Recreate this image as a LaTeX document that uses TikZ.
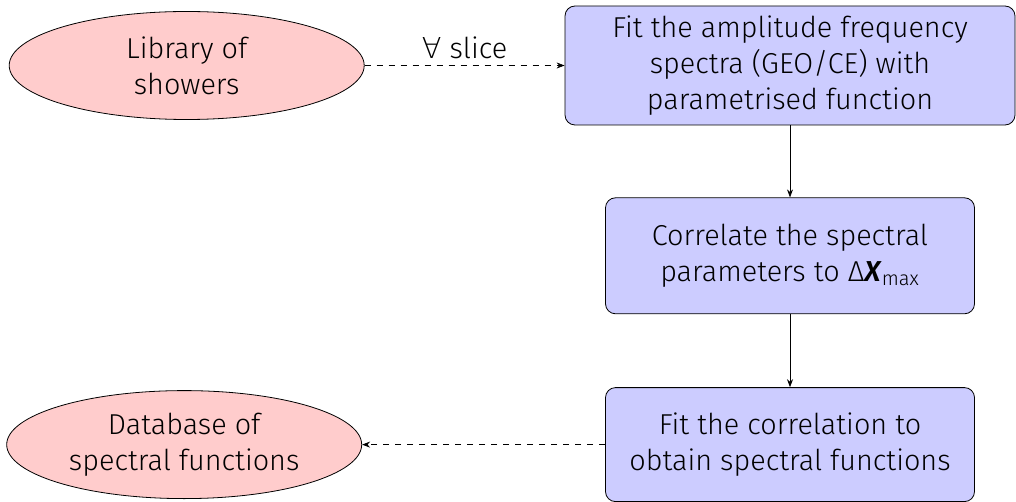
\documentclass[tikz,border=0pt]{standalone}
\usepackage{fontspec}
\setmainfont{Fira Sans Light}[BoldItalicFont={Fira Sans SemiBold Italic}]
\newfontfamily\symbolfont{DejaVu Sans ExtraLight}
\usetikzlibrary{positioning,arrows.meta,shapes.geometric}
\definecolor{procblue}{HTML}{CCCCFF}
\definecolor{datared}{HTML}{FFCCCC}
\tikzset{
    every node/.style={font=\Large},
    process/.style={rectangle,rounded corners=5pt,draw,fill=procblue,align=center,inner sep=2pt},
    dataset/.style={ellipse,draw,fill=datared,align=center,inner sep=1pt,minimum width=177.5pt,minimum height=54pt},
    flow/.style={draw,-{Stealth[length=4pt,width=3pt]}},
    loop/.style={draw,dashed,-{Stealth[length=4pt,width=3pt]}}
}

\begin{document}
\begin{tikzpicture}[x=0.5pt,y=-0.5pt]
\useasboundingbox (0,0) rectangle (1016,502);
\node[process,minimum width=225pt,minimum height=59.5pt] (fitspec) at (790,65.5)
    {Fit the amplitude frequency\\spectra (GEO/CE) with\\parametrised function};
\node[process,minimum width=184.5pt,minimum height=58pt,below=36pt of fitspec] (correl)
    {Correlate the spectral\\parameters to Δ\textbf{\textit{X}}\textsubscript{max}};
\node[process,minimum width=184.5pt,minimum height=57pt,below=36.5pt of correl] (fitcorr)
    {Fit the correlation to\\obtain spectral functions};
\node[dataset,left=100pt of fitspec] (library) {Library of\\showers};
\node[dataset,left=121.5pt of fitcorr] (database) {Database of\\spectral functions};

\draw[loop] (library) -- node[above] {{\symbolfont ∀} slice} (fitspec);
\draw[flow] (fitspec) -- (correl);
\draw[flow] (correl) -- (fitcorr);
\draw[loop] (fitcorr) -- (database);
\end{tikzpicture}
\end{document}
